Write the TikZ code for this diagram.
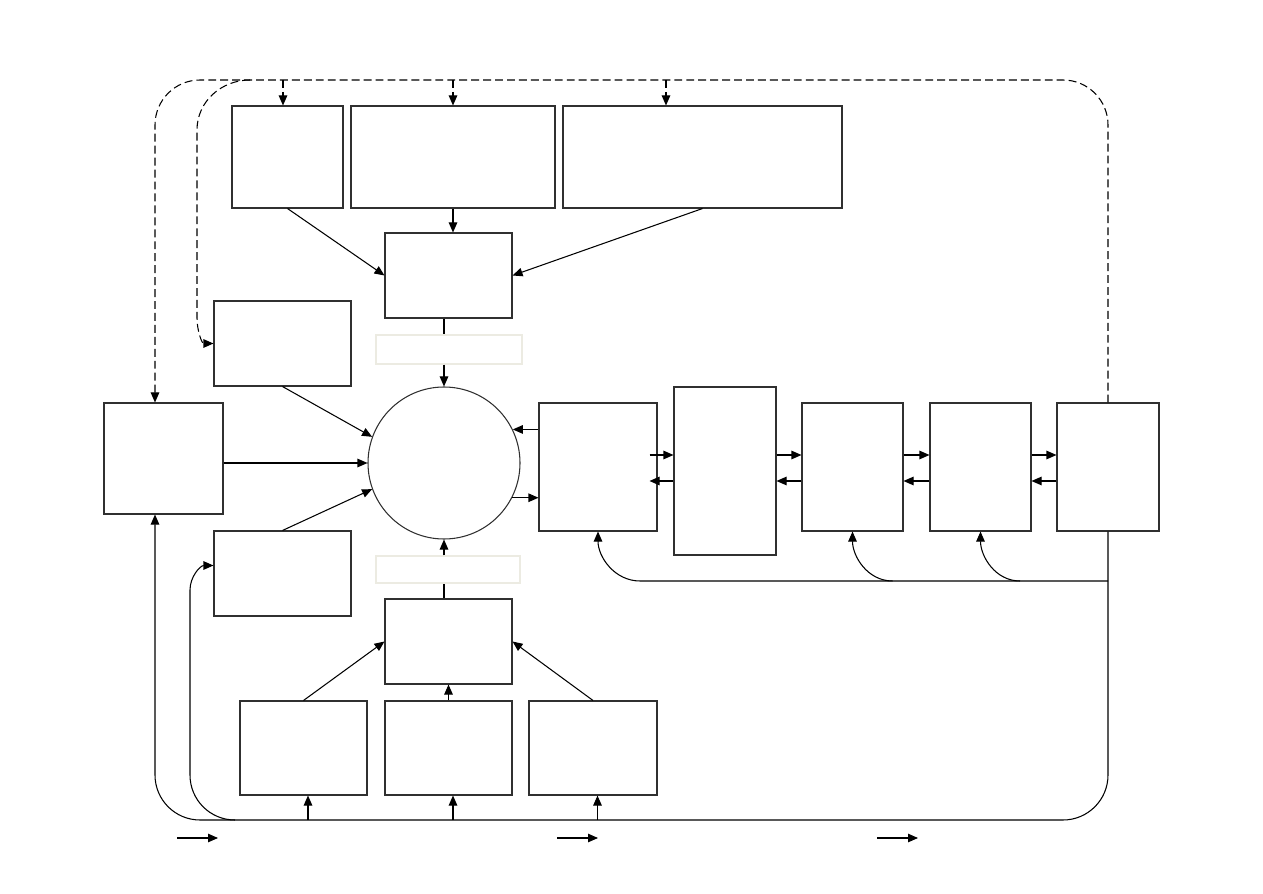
\documentclass[tikz,border=0pt]{standalone}
\usetikzlibrary{arrows.meta, calc}
\definecolor{trazo}{HTML}{303030}
\definecolor{tenue}{HTML}{ECEBE2}
\tikzset{
  caja/.style={rectangle, draw=trazo, fill=white, line width=0.6pt, inner sep=0pt,
               minimum width=2.54cm, minimum height=1.70cm},
  cajaalta/.style={rectangle, draw=trazo, fill=white, line width=0.6pt, inner sep=0pt,
               minimum width=2.02cm, minimum height=2.56cm},
  circulo/.style={circle, draw=trazo, fill=white, line width=0.6pt, inner sep=0pt, minimum size=3.04cm},
  etiqueta/.style={rectangle, draw=tenue, fill=white, line width=0.6pt, inner sep=0pt,
               minimum width=2.92cm, minimum height=0.58cm},
  linea/.style={line width=0.6pt, color=black},
  flecha/.style={line width=0.6pt, color=black, -{Triangle[length=2mm,width=1.7mm]}},
  flechad/.style={flecha, dash pattern=on 4.5pt off 2.3pt}
}
\begin{document}
\begin{tikzpicture}
  \useasboundingbox (0,0) rectangle (25.26,17.86);
  % fila de arriba
  \node (t1) [caja, minimum width=2.22cm, minimum height=2.04cm] at (5.75,14.72) {};
  \node (t2) [caja, minimum width=4.08cm, minimum height=2.04cm] at (9.06,14.72) {};
  \node (t3) [caja, minimum width=5.58cm, minimum height=2.04cm] at (14.05,14.72) {};
  \node (m1) [caja] at (8.97,12.35) {};
  \node (e1) [etiqueta] at (8.98,10.87) {};
  % lado izquierdo y centro
  \node (l1) [caja, minimum width=2.74cm] at (5.65,10.99) {};
  \node (ent) [caja, minimum width=2.38cm, minimum height=2.22cm] at (3.27,8.69) {};
  \node (l2) [caja, minimum width=2.74cm] at (5.65,6.39) {};
  \node (nucleo) [circulo] at (8.88,8.60) {};
  \node (e2) [etiqueta, minimum width=2.88cm, minimum height=0.54cm] at (8.96,6.47) {};
  \node (m2) [caja] at (8.97,5.03) {};
  \node (b1) [caja, minimum height=1.88cm] at (6.07,2.90) {};
  \node (b2) [caja, minimum height=1.88cm] at (8.97,2.90) {};
  \node (b3) [caja, minimum width=2.56cm, minimum height=1.88cm] at (11.86,2.90) {};
  % cadena derecha
  \node (r1) [cajaalta, minimum width=2.36cm] at (11.96,8.52) {};
  \node (r2) [cajaalta, minimum width=2.04cm, minimum height=3.36cm] at (14.50,8.44) {};
  \node (r3) [cajaalta] at (17.05,8.52) {};
  \node (r4) [cajaalta] at (19.61,8.52) {};
  \node (r5) [cajaalta, minimum width=2.04cm] at (22.16,8.52) {};
  % puntos de paso
  \coordinate (dtl) at (3.10,16.26);
  \coordinate (dti) at (5.00,16.26);
  \coordinate (dti1) at (3.94,15.26);
  \coordinate (dti2) at (3.94,11.50);
  \coordinate (fbl) at (3.10,1.46);
  \coordinate (fbi) at (4.70,1.46);
  \coordinate (fbi1) at (3.80,2.36);
  \coordinate (fbi2) at (3.80,6.06);
  \coordinate (rr) at (22.16,6.24);
  \coordinate (rr1) at (12.80,6.24);
  \coordinate (rr3) at (17.85,6.24);
  \coordinate (rr4) at (20.40,6.24);
  \coordinate (ida) at (0,8.76);
  \coordinate (vuelta) at (0,8.24);

  % arriba hacia m1 y el circulo
  \draw [flecha] (t1.south) -- (m1.west);
  \draw [flecha] (t2.south) -- (t2.south |- m1.north);
  \draw [flecha] (t3.south) -- (m1.east);
  \draw [linea] (nucleo.north |- m1.south) -- (nucleo.north |- e1.north);
  \draw [flecha] (nucleo.north |- e1.south) -- (nucleo.north);
  \draw [flecha] (l1.south) -- (nucleo.160);
  \draw [flecha] (nucleo.west -| ent.east) -- (nucleo.west);
  \draw [flecha] (l2.north) -- (nucleo.200);
  % abajo hacia m2 y el circulo
  \draw [linea] (nucleo.south |- m2.north) -- (nucleo.south |- e2.south);
  \draw [flecha] (nucleo.south |- e2.north) -- (nucleo.south);
  \draw [flecha] (b1.north) -- (m2.west);
  \draw [flecha] (b2.north) -- (m2.south);
  \draw [flecha] (b3.north) -- (m2.east);
  \foreach \b in {b1,b2,b3}
    \draw [flecha] ([xshift=0.09cm]\b.south |- fbl) -- ([xshift=0.09cm]\b.south);

  % circulo y cadena
  \draw [flecha] (r1.west |- nucleo.26) -- (nucleo.26);
  \draw [flecha] (nucleo.333) -- (nucleo.333 -| r1.west);
  \draw [flecha] ([xshift=-0.16cm]r1.east |- ida) -- (r2.west |- ida);
  \draw [flecha] (r2.west |- vuelta) -- ([xshift=-0.16cm]r1.east |- vuelta);
  \foreach \a/\b in {r2/r3, r3/r4, r4/r5} {
    \draw [flecha] (\a.east |- ida) -- (\b.west |- ida);
    \draw [flecha] (\b.west |- vuelta) -- (\a.east |- vuelta);
  }

  % retorno de r5
  \draw [flecha] (rr) -- (rr1) to[out=180,in=-90] (r1.south);
  \draw [flecha] (rr3) to[out=180,in=-90] (r3.south);
  \draw [flecha] (rr4) to[out=180,in=-90] (r4.south);
  \draw [flecha, rounded corners=0.9cm] (r5.south) |- (fbl) -- (fbl |- ent.south);
  \draw [flecha] (fbi) to[out=180,in=-90] (fbi1) -- (fbi2) to[out=90,in=180] ([yshift=0.16cm]l2.west);

  % lazo discontinuo
  \draw [flechad, rounded corners=0.9cm] (r5.north) |- (dtl) -- (dtl |- ent.north);
  \draw [flechad] (dti) to[out=180,in=90] (dti1) -- (dti2) to[out=-90,in=180] (l1.west);
  \draw [flechad] ([xshift=-0.09cm]t1.north |- dtl) -- ([xshift=-0.09cm]t1.north);
  \draw [flechad] (t2.north |- dtl) -- (t2.north);
  \draw [flechad] ([xshift=-0.73cm]t3.north |- dtl) -- ([xshift=-0.73cm]t3.north);

  % flechas sueltas
  \foreach \x in {3.54,11.14,17.54}
    \draw [flecha] (\x,1.10) -- ++(0.82,0);
\end{tikzpicture}
\end{document}
